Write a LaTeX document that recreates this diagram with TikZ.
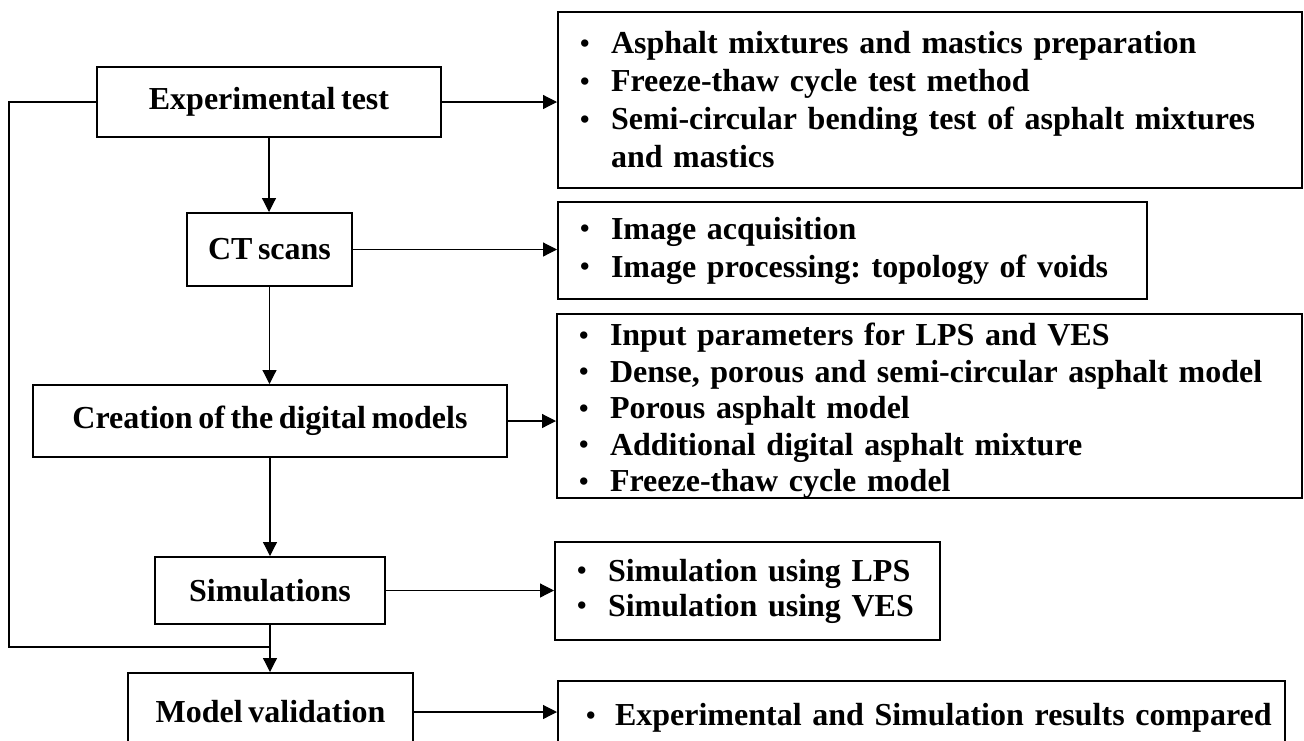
\documentclass[tikz,border=0pt]{standalone}
\usepackage{fontspec}
\setmainfont{Liberation Serif}[WordSpace=0.7]
\usetikzlibrary{arrows.meta,calc}
\frenchspacing
% round bullet in a fixed-width slot, line kept unbroken
\newcommand\dotmark{\raisebox{1.4pt}{\fontsize{27}{0}\selectfont\textbullet}}
\newcommand\bitem[1]{\mbox{\makebox[31pt][l]{\dotmark}#1}}
\begin{document}
\begin{tikzpicture}[x=1pt,y=-1pt,
  stage/.style={draw, line width=2pt, inner sep=0pt,
    font=\bfseries\fontsize{32}{38}\selectfont},
  notes/.style={draw, line width=2pt, align=left, inner xsep=22pt, inner ysep=0pt,
    font=\bfseries\fontsize{32}{38}\selectfont},
  flow/.style={line width=1.2pt, -{Triangle[length=14pt,width=14pt]}},
  link/.style={line width=1.2pt}]
\useasboundingbox (0,0) rectangle (1304,740);
\clip (0,0) rectangle (1304,740);

% workflow stages
\node[stage, minimum width=344pt, minimum height=70pt] (exp) at (269,102) {Experimental test};
\node[stage, minimum width=165pt, minimum height=73pt] (ct) at (269.5,249.5) {CT scans};
\node[stage, minimum width=474pt, minimum height=72pt] (cr) at (270,421) {Creation of the digital models};
\node[stage, minimum width=230pt, minimum height=67pt] (sim) at (270,590.5) {Simulations};
\node[stage, minimum width=285pt, minimum height=78pt] (mv) at (270.5,712) {Model validation};

% details of each stage
\node[notes, text width=700pt, minimum height=176pt] (d1) at (930,100)
  {\bitem{Asphalt mixtures and mastics preparation}\\
   \bitem{Freeze-thaw cycle test method}\\
   \bitem{\makebox[670pt][s]{Semi-circular bending test of asphalt mixtures}}\\
   \hspace*{31pt}and mastics};
\node[notes, text width=545pt, minimum height=97pt] (d2) at (852.5,250.5)
  {\bitem{Image acquisition}\\
   \bitem{Image processing: topology of voids}};
\node[notes, text width=701pt, minimum height=184pt,
      font=\bfseries\fontsize{32}{36.5}\selectfont] (d3) at (929.5,406)
  {\rule{0pt}{32pt}\bitem{Input parameters for LPS and VES}\\
   \bitem{Dense, porous and semi-circular asphalt model}\\
   \bitem{Porous asphalt model}\\
   \bitem{Additional digital asphalt mixture}\\
   \bitem{Freeze-thaw cycle model}};
\node[notes, text width=341pt, minimum height=98pt,
      font=\bfseries\fontsize{32}{35}\selectfont] (d4) at (747.5,591)
  {\bitem{Simulation using LPS}\\
   \bitem{Simulation using VES}};
\node[notes, inner xsep=28pt, text width=671pt, minimum height=74pt] (d5) at (921.5,718)
  {\makebox[29pt][l]{\dotmark}\mbox{Experimental and Simulation results compared}};

% stage to details
\draw[flow] (exp.east) -- (exp.east -| d1.west);
\draw[flow] (ct.east) -- (ct.east -| d2.west);
\draw[flow] (cr.east) -- (cr.east -| d3.west);
\draw[flow] (sim.east) -- (sim.east -| d4.west);
\draw[flow] (mv.east) -- (mv.east -| d5.west);

% main sequence
\draw[flow] (exp.south) -- (exp.south |- ct.north);
\draw[flow] (ct.south) -- (ct.south |- cr.north);
\draw[flow] (cr.south) -- (cr.south |- sim.north);
\draw[flow] (sim.south) -- (sim.south |- mv.north);

% experimental results fed straight to validation
\coordinate (fb) at ($(sim.south)+(0,22)$);
\draw[link] (exp.west) -- ++(-87,0) |- (fb);
\end{tikzpicture}
\end{document}
